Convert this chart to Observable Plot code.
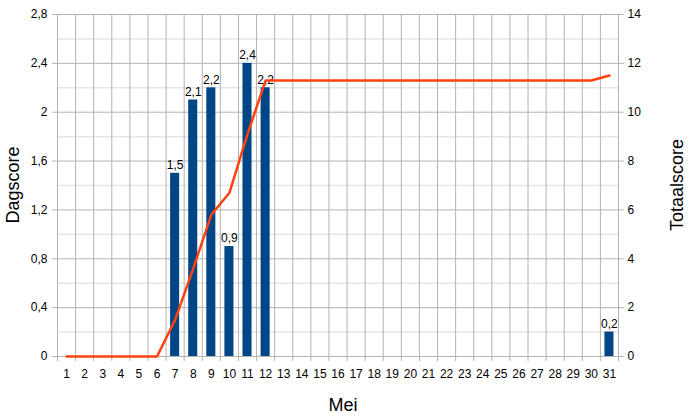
<!DOCTYPE html>
<html>
<head>
<meta charset="utf-8">
<script src="https://cdn.jsdelivr.net/npm/d3@7"></script>
<script src="https://cdn.jsdelivr.net/npm/@observablehq/plot@0.6"></script>
<style>
  html, body { margin: 0; padding: 0; background: #fff; }
  #chart svg { display: block; }
</style>
</head>
<body>
<div id="chart"></div>
<script>
const days = d3.range(1, 32);
const dagscore = [0,0,0,0,0,0,1.5,2.1,2.2,0.9,2.4,2.2,0,0,0,0,0,0,0,0,0,0,0,0,0,0,0,0,0,0,0.2];
const totaalscore = [0,0,0,0,0,0,1.5,3.6,5.8,6.7,9.1,11.3,11.3,11.3,11.3,11.3,11.3,11.3,11.3,11.3,11.3,11.3,11.3,11.3,11.3,11.3,11.3,11.3,11.3,11.3,11.5];
const leftTicks = [0,0.4,0.8,1.2,1.6,2,2.4,2.8];
const minorTicks = [0.2,0.6,1.0,1.4,1.8,2.2,2.6];
const ratio = 5; // Totaalscore axis = Dagscore axis * 5

const data = days.map((d, i) => ({day: d, dag: dagscore[i], tot: totaalscore[i]}));
const boundaries = d3.range(0.5, 32, 1);
const fmt = v => String(+v.toFixed(1)).replace(".", ",");

const font = "Liberation Sans, Arial, sans-serif";

const chart = Plot.plot({
  width: 690,
  height: 416,
  marginLeft: 57,
  marginRight: 72,
  marginTop: 14,
  marginBottom: 60,
  style: {fontFamily: font, fontSize: "12px", color: "#000", background: "#fff"},
  x: {domain: [0.5, 31.5], axis: null},
  y: {domain: [0, 2.8], axis: null},
  marks: [
    Plot.ruleY(minorTicks, {stroke: "#e6e6e6", strokeWidth: 1.5}),
    Plot.ruleX(boundaries, {stroke: "#b3b3b3", strokeWidth: 1}),
    Plot.ruleY(leftTicks, {stroke: "#b3b3b3", strokeWidth: 1}),
    Plot.axisY(leftTicks, {anchor: "left", label: null, tickFormat: fmt, tickSize: 5, tickPadding: 5, stroke: "#b3b3b3", fontSize: 12}),
    Plot.axisY(leftTicks, {anchor: "right", label: null, tickFormat: d => fmt(d * ratio), tickSize: 5, tickPadding: 4, stroke: "#b3b3b3", fontSize: 12}),
    Plot.ruleX(boundaries, {x: d => d, y1: 0, y2: 0, stroke: "#b3b3b3", insetBottom: -5}),
    Plot.text(days, {x: d => d, y: 0, dy: 18, text: d => String(d), fontSize: 12, fill: "#000"}),
    Plot.rectY(data.filter(d => d.dag > 0), {x1: d => d.day - 0.25, x2: d => d.day + 0.25, y1: 0, y2: "dag", fill: "#004586"}),
    Plot.text(data.filter(d => d.dag > 0), {x: "day", y: "dag", text: d => fmt(d.dag), dy: -8, fontSize: 12, fill: "#000"}),
    Plot.line(data, {x: "day", y: d => d.tot / ratio, stroke: "#ff420e", strokeWidth: 2.5})
  ]
});

const svg = d3.select(chart);
svg.append("text")
  .attr("transform", "translate(19,185) rotate(-90)")
  .attr("text-anchor", "middle")
  .attr("font-family", font).attr("font-size", 18).attr("fill", "#000")
  .text("Dagscore");
svg.append("text")
  .attr("transform", "translate(683,185) rotate(-90)")
  .attr("text-anchor", "middle")
  .attr("font-family", font).attr("font-size", 18).attr("fill", "#000")
  .text("Totaalscore");
svg.append("text")
  .attr("x", 343).attr("y", 411)
  .attr("text-anchor", "middle")
  .attr("font-family", font).attr("font-size", 18).attr("fill", "#000")
  .text("Mei");

document.getElementById("chart").appendChild(chart);
</script>
</body>
</html>
